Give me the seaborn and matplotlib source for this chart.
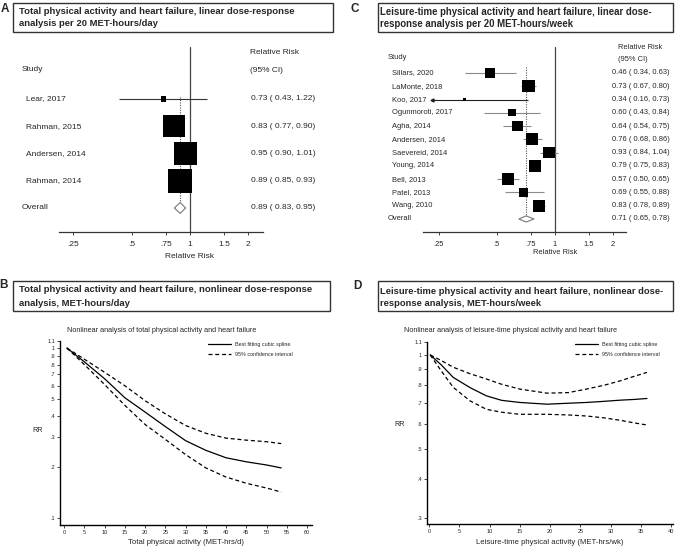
import numpy as np
import pandas as pd
import seaborn as sns
import matplotlib
matplotlib.use('Agg')
import matplotlib.pyplot as plt
from matplotlib import transforms
from matplotlib.patches import Rectangle
from matplotlib.ticker import NullLocator

# ---- panel A: total physical activity, per 20 MET-hours/day
a_studies = ['Lear, 2017', 'Rahman, 2015', 'Andersen, 2014', 'Rahman, 2014']
a_rr = [0.73, 0.83, 0.95, 0.89]
a_lo = [0.43, 0.77, 0.90, 0.85]
a_hi = [1.22, 0.90, 1.01, 0.93]
a_weight = [1.6, 30.0, 32.8, 35.6]
a_overall = [0.89, 0.83, 0.95]

# ---- panel C: leisure-time physical activity, per 20 MET-hours/week
c_studies = ['Sillars, 2020', 'LaMonte, 2018', 'Koo, 2017', 'Ogunmoroti, 2017', 'Agha, 2014',
             'Andersen, 2014', 'Saevereid, 2014', 'Young, 2014', 'Bell, 2013', 'Patel, 2013', 'Wang, 2010']
c_rr = [0.46, 0.73, 0.34, 0.60, 0.64, 0.76, 0.93, 0.79, 0.57, 0.69, 0.83]
c_lo = [0.34, 0.67, 0.16, 0.43, 0.54, 0.68, 0.84, 0.75, 0.50, 0.55, 0.78]
c_hi = [0.63, 0.80, 0.73, 0.84, 0.75, 0.86, 1.04, 0.83, 0.65, 0.88, 0.89]
c_weight = [8.4, 12.7, 1.0, 4.5, 9.6, 11.5, 11.5, 10.8, 11.5, 6.8, 11.5]
c_overall = [0.71, 0.65, 0.78]

forest_ticks = [0.25, 0.5, 0.75, 1, 1.5, 2]
forest_ticklabels = ['.25', '.5', '.75', '1', '1.5', '2']

# ---- panel B: nonlinear, total activity (MET-hrs/d)
b_x = [0.7, 5, 10, 15, 20, 25, 30, 35, 40, 45, 50, 53.6]
b_fit = [1.0, 0.83, 0.66, 0.51, 0.42, 0.345, 0.285, 0.25, 0.226, 0.214, 0.205, 0.197]
b_upper = [1.0, 0.86, 0.72, 0.60, 0.49, 0.41, 0.35, 0.315, 0.295, 0.287, 0.281, 0.274]
b_lower = [1.0, 0.80, 0.61, 0.46, 0.355, 0.29, 0.236, 0.197, 0.174, 0.16, 0.15, 0.142]
b_yticks = [0.1, 0.2, 0.3, 0.4, 0.5, 0.6, 0.7, 0.8, 0.9, 1, 1.1]
b_yticklabels = ['.1', '.2', '.3', '.4', '.5', '.6', '.7', '.8', '.9', '1', '1.1']

# ---- panel D: nonlinear, leisure-time activity (MET-hrs/wk)
d_x = [0.2, 2, 4, 6.8, 9.5, 12, 15, 19.5, 23, 26, 29, 31.6, 34, 36]
d_fit = [1.0, 0.93, 0.847, 0.785, 0.739, 0.715, 0.704, 0.695, 0.70, 0.704, 0.71, 0.716, 0.72, 0.725]
d_upper = [1.0, 0.96, 0.913, 0.87, 0.837, 0.805, 0.777, 0.754, 0.757, 0.777, 0.80, 0.826, 0.855, 0.879]
d_lower = [1.0, 0.89, 0.787, 0.712, 0.669, 0.655, 0.645, 0.645, 0.642, 0.637, 0.628, 0.617, 0.605, 0.596]
d_yticks = [0.3, 0.4, 0.5, 0.6, 0.7, 0.8, 0.9, 1, 1.1]
d_yticklabels = ['.3', '.4', '.5', '.6', '.7', '.8', '.9', '1', '1.1']

W, H = 677, 548

sns.set_style('white')
plt.rcParams['font.family'] = ['Liberation Sans Narrow', 'Liberation Sans', 'DejaVu Sans']

fig = plt.figure(figsize=(W / 100, H / 100), dpi=100)


def fx(px):
    return px / W


def fy(py):
    return 1 - py / H


def add_axes_px(x0, y0, x1, y1):
    return fig.add_axes([fx(x0), fy(y1), (x1 - x0) / W, (y1 - y0) / H])


def title_box(x0, y0, x1, y1, lines, text_x, line_ys, width_px, letter, letter_xy):
    fig.add_artist(Rectangle((fx(x0), fy(y1)), (x1 - x0) / W, (y1 - y0) / H,
                             transform=fig.transFigure, fill=False, ec='#333333', lw=1.0))
    texts = [fig.text(fx(text_x), fy(y), s, fontsize=8, fontweight='bold', va='center', ha='left')
             for s, y in zip(lines, line_ys)]
    r = fig.canvas.get_renderer()
    w = texts[0].get_window_extent(r).width
    for t in texts:
        t.set_fontsize(8 * width_px / w)
    fig.text(fx(letter_xy[0]), fy(letter_xy[1]), letter, fontsize=8.5, fontweight='bold',
             family=['Liberation Sans', 'DejaVu Sans'], ha='center', va='center')


def forest(box, studies, rr, lo, hi, weight, overall, row0, step, xlim, clip_lo, box_max,
           fs, name_x, val_x, hdr, line_color, dot_top, dia_h, xlabel_y):
    ax = add_axes_px(*box)
    n = len(studies)
    df = pd.DataFrame({'study': studies, 'rr': rr, 'lo': lo, 'hi': hi,
                       'weight': weight, 'row': np.arange(n)})
    top = (box[1] - row0) / step
    bottom = (box[3] - row0) / step
    ax.set_xscale('log')

    for _, r in df.iterrows():
        c = line_color if r['lo'] >= clip_lo else '#222222'
        ax.hlines(r['row'], max(r['lo'], clip_lo), r['hi'], color=c, lw=0.8, zorder=2)
        if r['lo'] < clip_lo:
            ax.plot(clip_lo, r['row'], marker='<', ms=2.2, color=c, zorder=2)

    sns.scatterplot(data=df, x='rr', y='row', size='weight', sizes=(0, box_max),
                    size_norm=(0, max(weight)), marker='s', color='black', linewidth=0,
                    legend=False, ax=ax, zorder=3)

    est, olo, ohi = overall
    ax.fill([olo, est, ohi, est], [n, n - dia_h, n, n + dia_h], facecolor='white',
            edgecolor='#777777', lw=0.8, zorder=3)
    ax.vlines(est, dot_top, n - dia_h, colors='#555555', linestyles=(0, (1, 1.2)), lw=0.8, zorder=1)
    ax.axvline(1, color='#444444', lw=0.9, zorder=1)

    ax.set_xlim(xlim)
    ax.set_ylim(bottom, top)
    ax.set(xlabel='', ylabel='')
    ax.set_yticks([])
    ax.set_xticks(forest_ticks)
    ax.set_xticklabels(forest_ticklabels)
    ax.xaxis.set_minor_locator(NullLocator())
    ax.tick_params(axis='x', direction='out', length=2.5, width=0.6, pad=4, labelsize=fs, bottom=True)
    for s in ['left', 'top', 'right']:
        ax.spines[s].set_visible(False)
    ax.spines['bottom'].set_color('#333333')
    ax.spines['bottom'].set_linewidth(0.9)
    ax.patch.set_alpha(0)

    tr = transforms.blended_transform_factory(fig.transFigure, ax.transData)
    for i, s in enumerate(studies):
        ax.text(fx(name_x), i, s, transform=tr, fontsize=fs, va='center', ha='left')
        ax.text(fx(val_x), i, f'{rr[i]:.2f} ( {lo[i]:.2f}, {hi[i]:.2f})', transform=tr,
                fontsize=fs, va='center', ha='left')
    ax.text(fx(hdr[0]), n, 'Overall', transform=tr, fontsize=fs, va='center', ha='left')
    ax.text(fx(val_x), n, f'{est:.2f} ( {olo:.2f}, {ohi:.2f})', transform=tr,
            fontsize=fs, va='center', ha='left')
    ax.text(fx(hdr[0]), (hdr[1] - row0) / step, 'Study', transform=tr, fontsize=fs, va='center')
    ax.text(fx(hdr[2]), (hdr[3] - row0) / step, 'Relative Risk', transform=tr, fontsize=fs, va='center')
    ax.text(fx(hdr[2]), (hdr[4] - row0) / step, '(95% CI)', transform=tr, fontsize=fs, va='center')
    tr2 = transforms.blended_transform_factory(ax.transData, fig.transFigure)
    ax.text(1, fy(xlabel_y), 'Relative Risk', transform=tr2, fontsize=fs, ha='center', va='center')
    return ax


def spline(box, x, fit, upper, lower, xlim, ylim, yticks, yticklabels, xticks,
           subtitle, sub_xy, xlabel, xlabel_y, rr_xy, legend_xy):
    ax = add_axes_px(*box)
    dash = (0, (3.2, 2.2))
    sns.lineplot(x=x, y=fit, ax=ax, color='black', lw=0.9, label='Best fitting cubic spline')
    sns.lineplot(x=x, y=upper, ax=ax, color='black', lw=0.9, linestyle=dash,
                 label='95% confidence interval')
    sns.lineplot(x=x, y=lower, ax=ax, color='black', lw=0.9, linestyle=dash)
    ax.set_yscale('log')
    ax.set_xlim(xlim)
    ax.set_ylim(ylim)
    ax.set_yticks(yticks)
    ax.set_yticklabels(yticklabels)
    ax.yaxis.set_minor_locator(NullLocator())
    ax.set_xticks(xticks)
    ax.set(xlabel='', ylabel='')
    ax.tick_params(axis='both', direction='out', length=2, width=0.6, pad=1.5, labelsize=4,
                   left=True, bottom=True)
    for s in ['top', 'right']:
        ax.spines[s].set_visible(False)
    for s in ['left', 'bottom']:
        ax.spines[s].set_color('black')
        ax.spines[s].set_linewidth(1.0)
    ax.legend(loc='upper left', bbox_to_anchor=(fx(legend_xy[0]), fy(legend_xy[1])),
              bbox_transform=fig.transFigure, frameon=False, fontsize=3.9, handlelength=4.2,
              handletextpad=0.8, labelspacing=0.9, borderpad=0, borderaxespad=0)
    fig.text(fx(sub_xy[0]), fy(sub_xy[1]), subtitle, fontsize=5.2, ha='center', va='center')
    fig.text(fx((box[0] + box[2]) / 2), fy(xlabel_y), xlabel, fontsize=5.6, ha='center', va='center')
    fig.text(fx(rr_xy[0]), fy(rr_xy[1]), 'RR', fontsize=5.2, ha='center', va='center')
    return ax


# titles
title_box(13, 3, 333, 32, ['Total physical activity and heart failure, linear dose-response',
                            'analysis per 20 MET-hours/day'], 19, [12, 24], 276, 'A', (5, 9))
title_box(378, 3, 673, 32, ['Leisure-time physical activity and heart failure, linear dose-',
                             'response analysis per 20 MET-hours/week'], 380, [12, 24], 275, 'C', (355, 9))
title_box(13, 281, 330, 311, ['Total physical activity and heart failure, nonlinear dose-response',
                               'analysis, MET-hours/day'], 19, [290, 303], 294, 'B', (4, 285))
title_box(378, 281, 673, 311, ['Leisure-time physical activity and heart failure, nonlinear dose-',
                                'response analysis, MET-hours/week'], 380, [291, 303], 283, 'D', (357, 286))

# forest plots
forest((59, 47, 263, 232), a_studies, a_rr, a_lo, a_hi, a_weight, a_overall,
       row0=99, step=27.25, xlim=(0.211, 2.38), clip_lo=0.211, box_max=298, fs=6,
       name_x=26, val_x=251, hdr=(22, 70, 250, 53, 71), line_color='#333333',
       dot_top=-0.07, dia_h=0.2, xlabel_y=257)

forest((423, 47, 626, 232), c_studies, c_rr, c_lo, c_hi, c_weight, c_overall,
       row0=73, step=13.27, xlim=(0.207, 2.34), clip_lo=0.23, box_max=78.5, fs=5.4,
       name_x=392, val_x=612, hdr=(388, 58, 618, 48, 60), line_color='#8a8a8a',
       dot_top=-0.45, dia_h=0.23, xlabel_y=252)

# nonlinear curves
spline((60, 341, 312, 525), b_x, b_fit, b_upper, b_lower, (-1, 61.2), (1 / 11, 1.1),
       b_yticks, b_yticklabels, list(range(0, 61, 5)),
       'Nonlinear analysis of total physical activity and heart failure', (162, 331),
       'Total physical activity (MET-hrs/d)', 543, (38, 430), (208, 342))

spline((427, 342, 673, 524), d_x, d_fit, d_upper, d_lower, (-0.33, 40.3), (0.287, 1.1),
       d_yticks, d_yticklabels, list(range(0, 41, 5)),
       'Nonlinear analysis of leisure-time physical activity and heart failure', (511, 331),
       'Leisure-time physical activity (MET-hrs/wk)', 543, (400, 425), (575, 342))

fig.savefig('out.png', dpi=100)
